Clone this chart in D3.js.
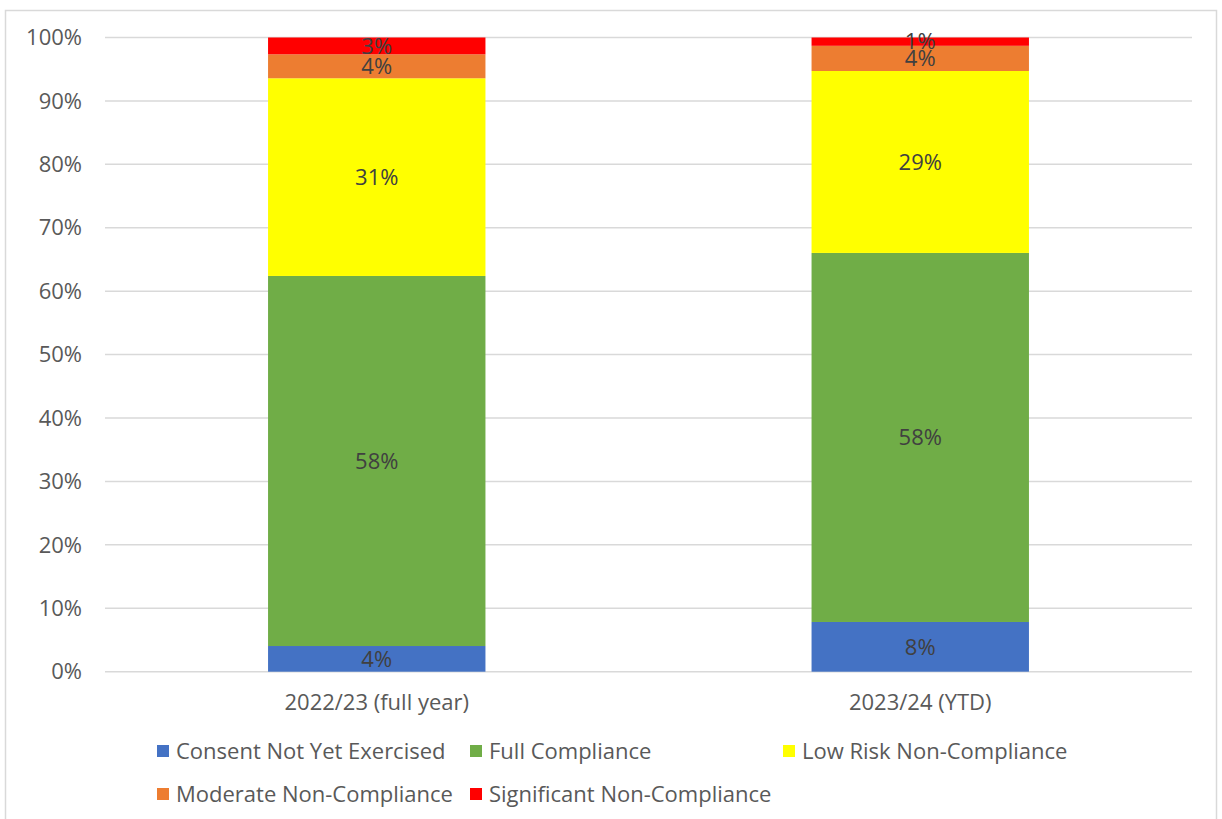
<!DOCTYPE html>
<html>
<head>
<meta charset="utf-8">
<script src="https://cdn.jsdelivr.net/npm/d3@7"></script>
<style>
  body { margin: 0; background: #fff; }
  text { font-family: "Open Sans", sans-serif; }
</style>
</head>
<body>
<div id="chart"></div>
<script>
var W = 1222, H = 819

// data (percent of total)
var categories = ["2022/23 (full year)", "2023/24 (YTD)"]
var seriesNames = ["Consent Not Yet Exercised", "Full Compliance", "Low Risk Non-Compliance",
  "Moderate Non-Compliance", "Significant Non-Compliance"]
var seriesColors = ["#4472c4", "#70ad47", "#ffff00", "#ed7d31", "#ff0000"]
var consentNotYet = [4.05, 7.84]
var fullCompliance = [58.35, 58.19]
var lowRisk = [31.17, 28.69]
var moderate = [3.78, 3.97]
var significant = [2.65, 1.31]
var yTicks = [0, 10, 20, 30, 40, 50, 60, 70, 80, 90, 100]

var values = [consentNotYet, fullCompliance, lowRisk, moderate, significant]

var fs = 22
var plotLeft = 105, plotRight = 1192, plotTop = 37.5, plotBottom = 671.7

var svg = d3.select("#chart").append("svg")
  .attr("width", W).attr("height", H)

// outer frame
svg.append("rect")
  .attr("x", 5.5).attr("y", 10.5)
  .attr("width", 1211).attr("height", 840)
  .attr("fill", "none").attr("stroke", "#d9d9d9").attr("stroke-width", 1.5)

var x = d3.scaleBand().domain(categories).range([plotLeft, plotRight])
  .paddingInner(0.6).paddingOuter(0.3)
var y = d3.scaleLinear().domain([0, 100]).range([plotBottom, plotTop])

// gridlines
svg.append("g").selectAll("line")
  .data(yTicks)
  .enter().append("line")
  .attr("x1", plotLeft).attr("x2", plotRight)
  .attr("y1", function(d){ return y(d) })
  .attr("y2", function(d){ return y(d) })
  .attr("stroke", "#d9d9d9").attr("stroke-width", 1.5)

// y tick labels
svg.append("g").selectAll("text")
  .data(yTicks)
  .enter().append("text")
  .attr("x", 82)
  .attr("y", function(d){ return y(d) })
  .attr("dy", "0.35em")
  .attr("text-anchor", "end")
  .attr("font-size", fs)
  .attr("fill", "#595959")
  .text(function(d){ return d + "%" })

// stack
var rows = categories.map(function(c, i){
  var r = { cat: c }
  seriesNames.forEach(function(s, k){ r[s] = values[k][i] })
  return r
})
var stacked = d3.stack().keys(seriesNames)(rows)

var layers = svg.append("g").selectAll("g")
  .data(stacked)
  .enter().append("g")
  .attr("fill", function(d, i){ return seriesColors[i] })

layers.selectAll("rect")
  .data(function(d){ return d })
  .enter().append("rect")
  .attr("x", function(d){ return x(d.data.cat) })
  .attr("width", x.bandwidth())
  .attr("y", function(d){ return y(d[1]) })
  .attr("height", function(d){ return y(d[0]) - y(d[1]) })

// data labels
layers.selectAll("text")
  .data(function(d){ return d })
  .enter().append("text")
  .attr("x", function(d){ return x(d.data.cat) + x.bandwidth() / 2 })
  .attr("y", function(d){ return y((d[0] + d[1]) / 2) })
  .attr("dy", "0.35em")
  .attr("text-anchor", "middle")
  .attr("font-size", fs)
  .attr("fill", "#404040")
  .text(function(d){ return Math.round(d[1] - d[0]) + "%" })

// category labels
svg.append("g").selectAll("text")
  .data(categories)
  .enter().append("text")
  .attr("x", function(d){ return x(d) + x.bandwidth() / 2 })
  .attr("y", 702)
  .attr("dy", "0.35em")
  .attr("text-anchor", "middle")
  .attr("font-size", fs)
  .attr("fill", "#595959")
  .text(function(d){ return d })

// legend, three columns
var legend = svg.append("g").selectAll("g")
  .data(seriesNames)
  .enter().append("g")
  .attr("transform", function(d, i){
    return "translate(" + (157 + (i % 3) * 313) + "," + (751 + Math.floor(i / 3) * 43) + ")"
  })

legend.append("rect")
  .attr("x", 0).attr("y", -6)
  .attr("width", 12).attr("height", 12)
  .attr("fill", function(d, i){ return seriesColors[i] })

legend.append("text")
  .attr("x", 19).attr("y", 0)
  .attr("dy", "0.35em")
  .attr("font-size", fs)
  .attr("fill", "#595959")
  .text(function(d){ return d })
</script>
</body>
</html>
